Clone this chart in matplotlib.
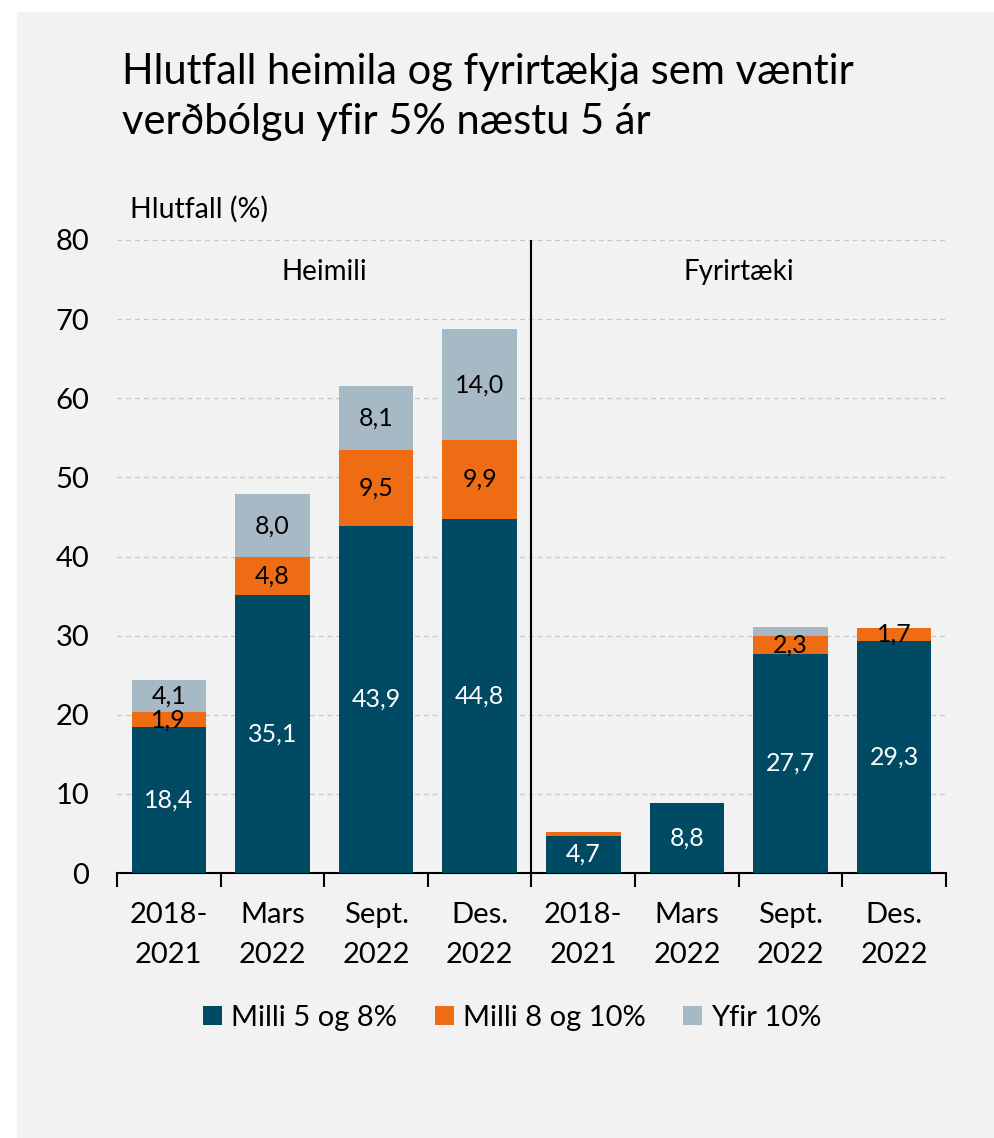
import numpy as np
import matplotlib.pyplot as plt
from matplotlib.patches import Rectangle

# Gögn
flokkar = ["2018-\n2021", "Mars\n2022", "Sept.\n2022", "Des.\n2022",
           "2018-\n2021", "Mars\n2022", "Sept.\n2022", "Des.\n2022"]
milli_5_8 = [18.4, 35.1, 43.9, 44.8, 4.7, 8.8, 27.7, 29.3]
milli_8_10 = [1.9, 4.8, 9.5, 9.9, 0.5, 0.0, 2.3, 1.7]
yfir_10 = [4.1, 8.0, 8.1, 14.0, 0.0, 0.0, 1.1, 0.0]
merki_5_8 = ["18,4", "35,1", "43,9", "44,8", "4,7", "8,8", "27,7", "29,3"]
merki_8_10 = ["1,9", "4,8", "9,5", "9,9", "", "", "2,3", "1,7"]
merki_10 = ["4,1", "8,0", "8,1", "14,0", "", "", "", ""]
hopar = ["Heimili", "Fyrirtæki"]

C_BLA = "#014a63"
C_APP = "#ee6c13"
C_GRA = "#a7b9c4"
BG = "#f2f2f2"

plt.rcParams["font.family"] = ["Lato", "DejaVu Sans"]

fig = plt.figure(figsize=(9.95, 11.38), dpi=100, facecolor="white")
fig.patches.append(Rectangle((17 / 995, 0), 1, 1 - 12 / 1138,
                             transform=fig.transFigure, facecolor=BG,
                             edgecolor="none", zorder=-10))

ax = fig.add_axes([117 / 995, 1 - 873 / 1138, (946 - 117) / 995, (873 - 240) / 1138])
ax.set_facecolor(BG)

x = np.arange(len(flokkar))
b1 = np.array(milli_5_8)
b2 = np.array(milli_8_10)
b3 = np.array(yfir_10)
w = 0.72
ax.bar(x, b1, w, color=C_BLA, label="Milli 5 og 8%", zorder=3)
ax.bar(x, b2, w, bottom=b1, color=C_APP, label="Milli 8 og 10%", zorder=3)
ax.bar(x, b3, w, bottom=b1 + b2, color=C_GRA, label="Yfir 10%", zorder=3)

fs = 18
for i in x:
    if merki_5_8[i]:
        ax.text(i, b1[i] / 2, merki_5_8[i], ha="center", va="center",
                color="white", fontsize=fs, zorder=4)
    if merki_8_10[i]:
        ax.text(i, b1[i] + b2[i] / 2, merki_8_10[i], ha="center", va="center",
                color="black", fontsize=fs, zorder=4)
    if merki_10[i]:
        ax.text(i, b1[i] + b2[i] + b3[i] / 2, merki_10[i], ha="center", va="center",
                color="black", fontsize=fs, zorder=4)

ax.set_xlim(-0.5, len(flokkar) - 0.5)
ax.set_ylim(0, 80)
ax.set_yticks(np.arange(0, 81, 10))
ax.yaxis.grid(True, color="#c8c8c8", linestyle=(0, (4, 3)), linewidth=0.9)
ax.set_axisbelow(True)
for s in ["top", "right", "left"]:
    ax.spines[s].set_visible(False)
ax.spines["bottom"].set_color("black")
ax.spines["bottom"].set_linewidth(1.5)

ax.set_xticks(np.arange(-0.5, len(flokkar), 1))
ax.set_xticklabels([])
ax.set_xticks(x, minor=True)
ax.set_xticklabels(flokkar, minor=True, fontsize=21, linespacing=1.65)
ax.tick_params(axis="x", which="major", length=10, width=1.5, color="black", direction="out")
ax.tick_params(axis="x", which="minor", length=0, pad=21)
ax.tick_params(axis="y", length=0, labelsize=21, pad=20)

ax.axvline(3.5, color="black", linewidth=1.5, zorder=5)
ax.text(1.5, 76, hopar[0], ha="center", va="center", fontsize=20)
ax.text(5.5, 76, hopar[1], ha="center", va="center", fontsize=20)

fig.text(122 / 995, 1 - 97 / 1138, "Hlutfall heimila og fyrirtækja sem væntir\nverðbólgu yfir 5% næstu 5 ár",
         ha="left", va="center", fontsize=30, linespacing=1.4)
fig.text(130 / 995, 1 - 209 / 1138, "Hlutfall (%)", ha="left", va="center", fontsize=20.5)

fig.legend(loc="center", bbox_to_anchor=(0.515, 1 - 1018 / 1138), ncol=3, frameon=False,
           fontsize=21, handlelength=0.65, handleheight=0.65, handletextpad=0.3,
           columnspacing=1.3)

fig.savefig("out.png", dpi=100, facecolor=fig.get_facecolor())
